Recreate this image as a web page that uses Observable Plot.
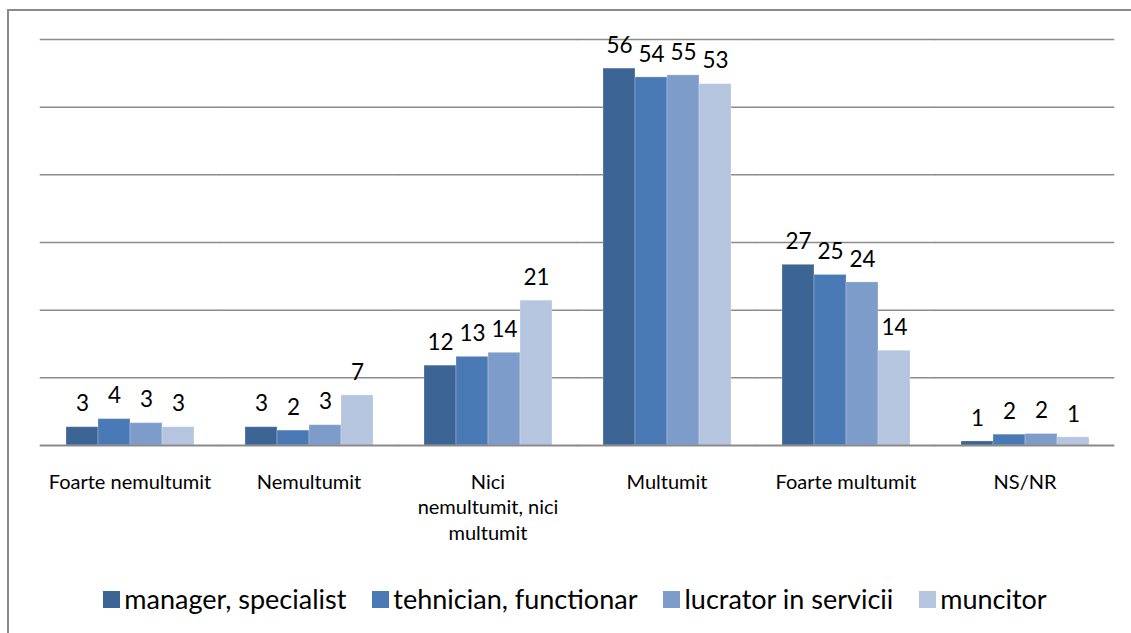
<!DOCTYPE html>
<html>
<head>
<meta charset="utf-8">
<script src="https://cdn.jsdelivr.net/npm/d3@7"></script>
<script src="https://cdn.jsdelivr.net/npm/@observablehq/plot@0.6"></script>
<style>
  html, body { margin: 0; padding: 0; background: #fff; }
  #wrap { position: relative; width: 1131px; height: 633px; overflow: hidden; font-family: Lato, "Open Sans", sans-serif; }
  #frame { position: absolute; left: 7px; top: 9px; width: 1200px; height: 700px; border-left: 2px solid #8a8a8a; border-top: 2px solid #8a8a8a; }
  #chart { position: absolute; left: 0; top: 0; }
  #legend { position: absolute; left: 0; top: 583px; width: 1131px; display: flex; justify-content: center; align-items: center; gap: 26px; padding-left: 19px; box-sizing: border-box; font-size: 27px; line-height: 32px; color: #000; }
  .item { display: flex; align-items: center; gap: 4px; white-space: nowrap; }
  .sw { width: 17px; height: 17px; display: inline-block; }
</style>
</head>
<body>
<div id="wrap">
  <div id="frame"></div>
  <div id="chart"></div>
  <div id="legend"></div>
</div>
<script>
const categories = ["Foarte nemultumit", "Nemultumit", "Nici nemultumit, nici multumit", "Multumit", "Foarte multumit", "NS/NR"];
const categoryLabels = ["Foarte nemultumit", "Nemultumit", "Nici\nnemultumit, nici\nmultumit", "Multumit", "Foarte multumit", "NS/NR"];
const series = ["manager, specialist", "tehnician, functionar", "lucrator in servicii", "muncitor"];
const managerSpecialist   = [2.7, 2.7, 11.8, 55.7, 26.7, 0.6];
const tehnicianFunctionar = [3.9, 2.2, 13.1, 54.4, 25.2, 1.6];
const lucratorServicii    = [3.3, 3.0, 13.7, 54.7, 24.1, 1.7];
const muncitor            = [2.7, 7.4, 21.4, 53.4, 14.0, 1.2];
const colors = ["#3c6494", "#4a7ab5", "#7e9cc9", "#b5c4df"];
const gridTicks = [10, 20, 30, 40, 50, 60];

const seriesValues = [managerSpecialist, tehnicianFunctionar, lucratorServicii, muncitor];
const rows = [];
categories.forEach((c, i) => {
  series.forEach((s, j) => rows.push({cat: c, series: s, value: seriesValues[j][i]}));
});

const ext = -24.3;
const chart = Plot.plot({
  width: 1131,
  height: 555,
  marginLeft: 38,
  marginRight: 15,
  marginTop: 39,
  marginBottom: 110,
  style: {background: "transparent", fontFamily: "Lato, 'Open Sans', sans-serif", color: "#000"},
  fx: {domain: categories, paddingInner: 0.27, paddingOuter: 0.135, axis: null, label: null},
  x: {domain: series, padding: 0, axis: null},
  y: {domain: [0, 60], axis: null},
  color: {domain: series, range: colors},
  marks: [
    Plot.ruleY(gridTicks, {y: d => d, stroke: "#8c8c8c", strokeWidth: 1.5, insetLeft: ext, insetRight: ext}),
    Plot.barY(rows, {fx: "cat", x: "series", y: "value", fill: "series", stroke: "#ffffff", strokeOpacity: 0.25, strokeWidth: 1}),
    Plot.ruleY([0], {y: d => d, stroke: "#8a8a8a", strokeWidth: 2, insetLeft: ext, insetRight: ext}),
    Plot.text(rows, {fx: "cat", x: "series", y: "value", text: d => String(Math.round(d.value)), dy: -23, lineAnchor: "middle", fontSize: 22.5, fill: "#000"}),
    Plot.text(categories, {fx: d => d, text: (d, i) => categoryLabels[i], frameAnchor: "bottom", lineAnchor: "top", dy: 25, lineHeight: 1.28, fontSize: 20, fill: "#000"})
  ]
});
document.getElementById("chart").appendChild(chart);

const legend = document.getElementById("legend");
series.forEach((s, i) => {
  const it = document.createElement("div");
  it.className = "item";
  const sw = document.createElement("span");
  sw.className = "sw";
  sw.style.background = colors[i];
  const tx = document.createElement("span");
  tx.textContent = s;
  it.appendChild(sw); it.appendChild(tx);
  legend.appendChild(it);
});
</script>
</body>
</html>
